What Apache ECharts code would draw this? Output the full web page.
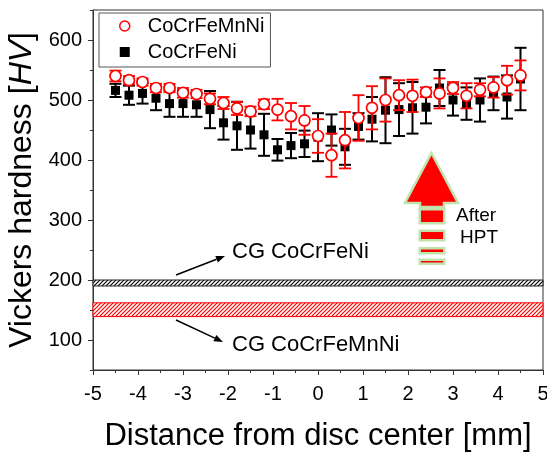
<!DOCTYPE html>
<html><head><meta charset="utf-8">
<script src="https://cdn.jsdelivr.net/npm/echarts@6/dist/echarts.min.js"></script>
<style>html,body{margin:0;padding:0;background:#fff}#c{width:547px;height:453px}</style>
</head><body><div id="c"></div>
<script>
// ---- data ----
const positions = [-4.5,-4.2,-3.9,-3.6,-3.3,-3.0,-2.7,-2.4,-2.1,-1.8,-1.5,-1.2,-0.9,-0.6,-0.3,0,0.3,0.6,0.9,1.2,1.5,1.8,2.1,2.4,2.7,3.0,3.3,3.6,3.9,4.2,4.5];
const mnniHardness = [540,533,530,520,520,512,510,502,495,486,481,493,484,473,466,440,408,433,470,487,500,508,507,513,511,520,507,517,521,533,541];
const mnniError    = [9,7,6,7,7,8,7,9,10,11,8,8,18,22,24,28,36,47,38,36,36,25,27,8,25,10,21,11,17,24,25];
const feniHardness = [516,508,511,503,494,494,492,484,462,457,450,442,417,424,427,438,450,422,456,468,483,484,487,488,520,500,494,500,511,505,535];
const feniError    = [11,16,17,20,22,22,20,31,28,40,31,35,18,21,22,40,26,30,22,37,55,44,43,27,30,26,27,36,28,36,52];
const cgFeNiBand = [190, 200];
const cgMnNiBand = [139, 162];
const xRange = [-5, 5];
const yMajorTicks = [100,200,300,400,500,600];
const seriesNames = ['CoCrFeMnNi','CoCrFeNi'];

const FONT = '"Liberation Sans", Arial, sans-serif';

function hatch(color){
  const s = 4, c = document.createElement('canvas');
  c.width = s; c.height = s;
  const g = c.getContext('2d');
  g.fillStyle = '#fff'; g.fillRect(0,0,s,s);
  g.strokeStyle = color; g.lineWidth = 1.2;
  g.beginPath();
  g.moveTo(0,s); g.lineTo(s,0);
  g.moveTo(-1,1); g.lineTo(1,-1);
  g.moveTo(s-1,s+1); g.lineTo(s+1,s-1);
  g.stroke();
  return {image: c, repeat: 'repeat'};
}

function bandRender(lineColor, borderColor){
  const pat = hatch(lineColor);
  return function(params, api){
    const p1 = api.coord([xRange[0], api.value(1)]);
    const p2 = api.coord([xRange[1], api.value(0)]);
    return {type:'rect', shape:{x:p1[0], y:p1[1], width:p2[0]-p1[0], height:p2[1]-p1[1]},
            style:{fill:pat, stroke:borderColor, lineWidth:1}};
  };
}

function errRender(color, lw){
  return function(params, api){
    const x = api.value(0), y = api.value(1), e = api.value(2);
    const t = api.coord([x, y + e]), b = api.coord([x, y - e]);
    const h = 6;
    const st = {stroke: color, lineWidth: lw};
    return {type:'group', children:[
      {type:'line', shape:{x1:t[0],y1:t[1],x2:b[0],y2:b[1]}, style:st},
      {type:'line', shape:{x1:t[0]-h,y1:t[1],x2:t[0]+h,y2:t[1]}, style:st},
      {type:'line', shape:{x1:b[0]-h,y1:b[1],x2:b[0]+h,y2:b[1]}, style:st}
    ]};
  };
}

function arrow(x1,y1,x2,y2){
  const a = Math.atan2(y2-y1, x2-x1), L = 9, W = 3.5;
  const bx = x2 - L*Math.cos(a), by = y2 - L*Math.sin(a);
  const px = -Math.sin(a)*W, py = Math.cos(a)*W;
  return [
    {type:'line', z:100, shape:{x1,y1,x2:bx,y2:by}, style:{stroke:'#000', lineWidth:1.5}},
    {type:'polygon', z:100, shape:{points:[[x2,y2],[bx+px,by+py],[bx-px,by-py]]}, style:{fill:'#000'}}
  ];
}

const mnniPts = positions.map((x,i)=>[x, mnniHardness[i]]);
const feniPts = positions.map((x,i)=>[x, feniHardness[i]]);
const mnniErr = positions.map((x,i)=>[x, mnniHardness[i], mnniError[i]]);
const feniErr = positions.map((x,i)=>[x, feniHardness[i], feniError[i]]);

const green = '#c2e2ad';
const hptStyle = {fill:'#ff0000', stroke: green, lineWidth: 2.5};
function dash(y, h){
  return [
    {type:'rect', z:100, shape:{x:418.5, y:y-2.5, width:27, height:h+5}, style:{fill:green}},
    {type:'rect', z:101, shape:{x:421, y:y, width:22, height:h}, style:{fill:'#ff0000'}}
  ];
}
const graphics = [].concat(
  arrow(176,275,225,256),
  arrow(176,320,223,342),
  [
    {type:'text', z:100, style:{x:232, y:252, text:'CG CoCrFeNi', font:'22px '+FONT, fill:'#000', verticalAlign:'middle'}},
    {type:'text', z:100, style:{x:232, y:345, text:'CG CoCrFeMnNi', font:'22px '+FONT, fill:'#000', verticalAlign:'middle'}},
    {type:'polygon', z:100, shape:{points:[[431.5,153],[458,203],[444,203],[444,207],[420,207],[420,203],[405,203]]}, style:hptStyle},
    {type:'text', z:100, style:{x:456, y:216, text:'After', font:'19px '+FONT, fill:'#000', verticalAlign:'middle'}},
    {type:'text', z:100, style:{x:460, y:238, text:'HPT', font:'19px '+FONT, fill:'#000', verticalAlign:'middle'}}
  ],
  dash(210.5, 11.5),
  dash(232, 7),
  dash(249.5, 2.5),
  dash(261, 1.5)
);

const chart = echarts.init(document.getElementById('c'), null, {renderer:'canvas'});
chart.setOption({
  animation:false,
  backgroundColor:'#fff',
  textStyle:{fontFamily:FONT},
  grid:{left:93, right:4, top:10, bottom:83, show:true, borderColor:'#333', borderWidth:1, backgroundColor:'transparent',
        containLabel:false, outerBoundsMode:'none'},
  legend:{
    data:[
      {name:seriesNames[0], icon:'circle', itemStyle:{color:'#fff', borderColor:'#ff0000', borderWidth:1.5}},
      {name:seriesNames[1], icon:'rect', itemStyle:{color:'#000', borderWidth:0}}
    ],
    orient:'vertical', left:99, top:13,
    padding:[2,6,4,20], itemGap:4, itemWidth:10, itemHeight:10,
    borderColor:'#555', borderWidth:1, backgroundColor:'#fff',
    textStyle:{fontSize:20, color:'#000', fontFamily:FONT, lineHeight:22, padding:[0,0,0,13]},
    selectedMode:false
  },
  xAxis:{
    type:'value', min:xRange[0], max:xRange[1], interval:1,
    axisLine:{show:true, onZero:false, lineStyle:{color:'#333', width:1}},
    splitLine:{show:false},
    axisTick:{show:true, inside:false, length:5, lineStyle:{color:'#333'}},
    minorTick:{show:true, splitNumber:2, length:3, lineStyle:{color:'#333'}},
    minorSplitLine:{show:false},
    axisLabel:{fontSize:20, color:'#000', margin:14, fontFamily:FONT},
    name:'Distance from disc center [mm]', nameLocation:'middle', nameGap:51,
    nameTextStyle:{fontSize:31, color:'#000', fontFamily:FONT}
  },
  yAxis:[{
    type:'value', min:50, max:650, interval:50, position:'left',
    axisLine:{show:true, onZero:false, lineStyle:{color:'#333', width:1}},
    splitLine:{show:false},
    axisTick:{show:true, inside:false, length:3, lineStyle:{color:'#333'}},
    axisLabel:{fontSize:20, color:'#000', margin:11, fontFamily:FONT,
      formatter:function(v){ return yMajorTicks.indexOf(v) >= 0 ? String(v) : ''; }},
    name:'Vickers hardness [{i|HV}]', nameLocation:'middle', nameGap:55,
    nameTextStyle:{fontSize:32, color:'#000', fontFamily:FONT,
      rich:{i:{fontSize:32, fontStyle:'italic', fontFamily:FONT, color:'#000'}}}
  },{
    type:'value', min:50, max:650, interval:50, position:'left', offset:0,
    axisLine:{show:false, onZero:false}, splitLine:{show:false}, axisLabel:{show:false},
    axisTick:{show:true, inside:false, length:5, customValues:yMajorTicks, lineStyle:{color:'#333'}}
  }],
  graphic:graphics,
  series:[
    {name:'bandFeNi', type:'custom', renderItem:bandRender('#000', '#222'), data:[cgFeNiBand], z:1, silent:true, encode:{y:[0,1]}},
    {name:'bandMnNi', type:'custom', renderItem:bandRender('#ff0000', '#ff0000'), data:[cgMnNiBand], z:1, silent:true, encode:{y:[0,1]}},
    {name:'feniErr', type:'custom', renderItem:errRender('#000', 2), data:feniErr, z:2, silent:true},
    {name:seriesNames[1], type:'scatter', data:feniPts, symbol:'rect', symbolSize:9, itemStyle:{color:'#000', opacity:1}, z:3},
    {name:'mnniErr', type:'custom', renderItem:errRender('#ff0000', 1.8), data:mnniErr, z:4, silent:true},
    {name:seriesNames[0], type:'scatter', data:mnniPts, symbol:'circle', symbolSize:11,
     itemStyle:{color:'#fff', borderColor:'#ff0000', borderWidth:1.7, opacity:1}, z:5}
  ]
});
</script></body></html>
